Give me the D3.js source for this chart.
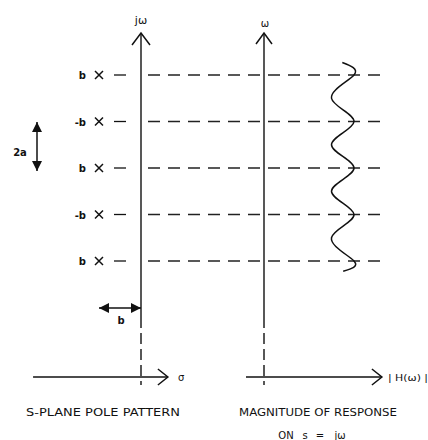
<!DOCTYPE html>
<html>
<head>
<meta charset="utf-8">
<script src="https://cdn.jsdelivr.net/npm/d3@7"></script>
<style>
  html, body { margin: 0; padding: 0; background: #fff; }
  svg { display: block; }
  text { font-family: 'DejaVu Sans', sans-serif; fill: #111; }
</style>
</head>
<body>
<script>
// poles sit at sigma = -b, spaced 2a apart along jw
var poleOmega = [2, 1, 0, -1, -2]
var poleLabels = ['b', '-b', 'b', '-b', 'b']
var poleSigma = -1

// ripple of |H| along w (peaks at the pole heights)
var rippleOmega = [2.27, 2, 1.5, 1, 0.5, 0, -0.5, -1, -1.5, -2, -2.22]
var rippleMag = [0.87, 1, 0.75, 1, 0.75, 1, 0.75, 1, 0.75, 1, 0.88]

var captionLeft = 'S-PLANE POLE PATTERN'
var captionRight = 'MAGNITUDE OF RESPONSE'
var captionOn = ['ON', 's', '=', 'j\u03c9']

var width = 428, height = 440

var svg = d3.select('body').append('svg')
    .attr('width', width)
    .attr('height', height)

var y = d3.scaleLinear().domain([-2, 2]).range([261, 75])
var sx = d3.scaleLinear().domain([-1, 0]).range([99, 141])
var mx = d3.scaleLinear().domain([0, 1]).range([264, 354])

var ink = '#111'
var yTop = 33, ySolidEnd = 317, yAxis = 377, yBottom = 385

function drawVertAxis(x, armX, armY) {
    svg.append('line')
        .attr('x1', x).attr('x2', x)
        .attr('y1', yTop).attr('y2', ySolidEnd)
        .style('stroke', ink).style('stroke-width', 1.4)
    svg.append('line')
        .attr('x1', x).attr('x2', x)
        .attr('y1', ySolidEnd).attr('y2', yBottom)
        .style('stroke', ink).style('stroke-width', 1.4)
        .style('stroke-dasharray', '11,5')
    svg.append('path')
        .attr('d', 'M' + (x - armX) + ',' + (yTop + armY) + 'L' + x + ',' + yTop + 'L' + (x + armX) + ',' + (yTop + armY))
        .style('fill', 'none').style('stroke', ink).style('stroke-width', 1.5)
}

function drawHorizAxis(x0, x1) {
    svg.append('line')
        .attr('x1', x0).attr('x2', x1)
        .attr('y1', yAxis).attr('y2', yAxis)
        .style('stroke', ink).style('stroke-width', 1.4)
    svg.append('path')
        .attr('d', 'M' + (x1 - 10) + ',' + (yAxis - 8) + 'L' + x1 + ',' + yAxis + 'L' + (x1 - 10) + ',' + (yAxis + 8))
        .style('fill', 'none').style('stroke', ink).style('stroke-width', 1.5)
}

// axes
drawVertAxis(sx(0), 9, 12)
drawVertAxis(mx(0), 8, 11)
drawHorizAxis(sx(-2.57), sx(0.64))
drawHorizAxis(mx(-0.2), mx(1.31))

// dashed lines through the poles
var rows = svg.append('g').attr('class', 'rows')
    .selectAll('g')
    .data(poleOmega)
    .enter().append('g')

rows.append('line')
    .attr('x1', sx(poleSigma) + 15).attr('x2', sx(poleSigma) + 27)
    .attr('y1', function(d) { return y(d) }).attr('y2', function(d) { return y(d) })
    .style('stroke', ink).style('stroke-width', 1.3)

rows.append('line')
    .attr('x1', sx(0) + 7).attr('x2', mx(1.3))
    .attr('y1', function(d) { return y(d) }).attr('y2', function(d) { return y(d) })
    .style('stroke', '#222').style('stroke-width', 1.3)
    .style('stroke-dasharray', '12,8')

// pole crosses
rows.append('path')
    .attr('d', function(d) {
        var cx = sx(poleSigma), cy = y(d), r = 4
        return 'M' + (cx - r) + ',' + (cy - r) + 'L' + (cx + r) + ',' + (cy + r) +
            'M' + (cx - r) + ',' + (cy + r) + 'L' + (cx + r) + ',' + (cy - r)
    })
    .style('stroke', ink).style('stroke-width', 1.5)

rows.append('text')
    .attr('x', sx(poleSigma) - 13)
    .attr('y', function(d) { return y(d) + 4 })
    .attr('text-anchor', 'end')
    .style('font-size', '10px')
    .style('font-weight', 'bold')
    .text(function(d, i) { return poleLabels[i] })

// ripple curve
var ripple = d3.line()
    .x(function(d) { return mx(d[1]) })
    .y(function(d) { return y(d[0]) })
    .curve(d3.curveNatural)

svg.append('path')
    .datum(rippleOmega.map(function(w, i) { return [w, rippleMag[i]] }))
    .attr('d', ripple)
    .style('fill', 'none').style('stroke', ink).style('stroke-width', 1.5)

// filled double arrows
function doubleArrow(x1, y1, x2, y2) {
    var ang = Math.atan2(y2 - y1, x2 - x1)
    var L = 10, W = 5
    function head(px, py, a) {
        var bx = px - L * Math.cos(a), by = py - L * Math.sin(a)
        return 'M' + px + ',' + py +
            'L' + (bx - W * Math.sin(a)) + ',' + (by + W * Math.cos(a)) +
            'L' + (bx + W * Math.sin(a)) + ',' + (by - W * Math.cos(a)) + 'Z'
    }
    svg.append('line')
        .attr('x1', x1).attr('y1', y1).attr('x2', x2).attr('y2', y2)
        .style('stroke', ink).style('stroke-width', 1.5)
    svg.append('path').attr('d', head(x2, y2, ang) + head(x1, y1, ang + Math.PI))
        .style('fill', ink)
}

doubleArrow(sx(poleSigma), 308, sx(0), 308)
doubleArrow(37, y(1) + 0.5, 37, y(0) + 3)

// labels
svg.append('text').attr('x', sx(0)).attr('y', 24).attr('text-anchor', 'middle')
    .style('font-size', '11px').text('j\u03c9')
svg.append('text').attr('x', mx(0) + 1).attr('y', 27).attr('text-anchor', 'middle')
    .style('font-size', '10px').text('\u03c9')
svg.append('text').attr('x', sx(0.64) + 10).attr('y', yAxis + 4)
    .style('font-size', '10px').text('\u03c3')
svg.append('text').attr('x', 388).attr('y', yAxis + 4)
    .attr('textLength', 40).attr('lengthAdjust', 'spacingAndGlyphs')
    .style('font-size', '9px').text('| H(\u03c9) |')
svg.append('text').attr('x', (sx(poleSigma) + sx(0)) / 2 + 1).attr('y', 324).attr('text-anchor', 'middle')
    .style('font-size', '10px').style('font-weight', 'bold').text('b')
svg.append('text').attr('x', 20).attr('y', 156).attr('text-anchor', 'middle')
    .style('font-size', '10px').style('font-weight', 'bold').text('2a')

// captions
svg.append('text').attr('x', 26).attr('y', 416)
    .attr('textLength', 154).attr('lengthAdjust', 'spacingAndGlyphs')
    .style('font-size', '10.5px').text(captionLeft)
svg.append('text').attr('x', 239).attr('y', 416)
    .attr('textLength', 158).attr('lengthAdjust', 'spacingAndGlyphs')
    .style('font-size', '10.5px').text(captionRight)

var onX = [286, 305, 320, 340]
svg.append('g').selectAll('text')
    .data(captionOn)
    .enter().append('text')
    .attr('x', function(d, i) { return onX[i] })
    .attr('y', 439)
    .attr('text-anchor', 'middle')
    .style('font-size', '10px')
    .text(function(d) { return d })
</script>
</body>
</html>
